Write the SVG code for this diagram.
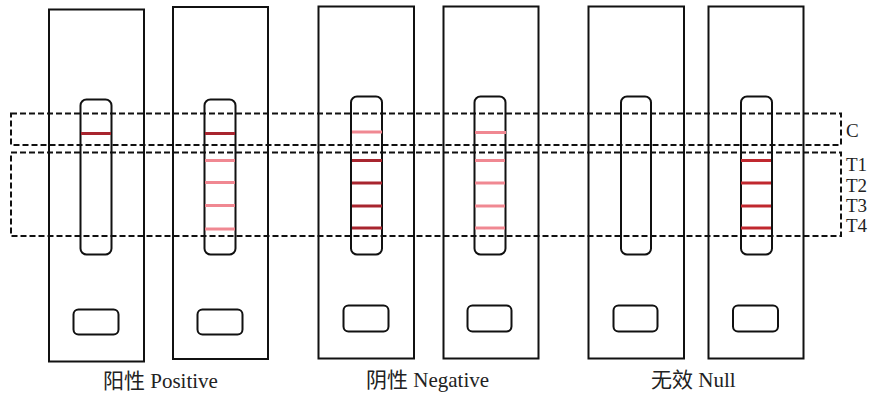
<svg xmlns="http://www.w3.org/2000/svg" width="870" height="394" viewBox="0 0 870 394">
  <style>
    .case { fill: #fff; stroke: #111; stroke-width: 2; }
    .win { fill: none; stroke: #111; stroke-width: 2; }
    .well { fill: none; stroke: #111; stroke-width: 2; }
    .zone { fill: none; stroke: #111; stroke-width: 2; stroke-dasharray: 6 3; }
    .dark { stroke: #a8252f; stroke-width: 3; }
    .pink { stroke: #f08892; stroke-width: 3; }
    .red { stroke: #c0282f; stroke-width: 3; }
    .lbl { font-family: "Liberation Serif", "Noto Sans CJK SC", serif; fill: #222; }
  </style>

  <!-- test cassettes -->
  <g id="cassette-1">
    <rect class="case" x="49" y="9.5" width="95" height="352"/>
    <rect class="win" x="80.5" y="99.5" width="31" height="155" rx="6"/>
    <rect class="well" x="73.5" y="309.5" width="45" height="25" rx="5"/>
    <line class="dark" x1="81" y1="133.5" x2="111" y2="133.5"/>
  </g>
  <g id="cassette-2">
    <rect class="case" x="173" y="7" width="95" height="352"/>
    <rect class="win" x="204.5" y="99.5" width="31" height="155" rx="6"/>
    <rect class="well" x="197.5" y="309.5" width="45" height="25" rx="5"/>
    <line class="dark" x1="205" y1="133.5" x2="235" y2="133.5"/>
    <line class="pink" x1="205" y1="160.5" x2="235" y2="160.5"/>
    <line class="pink" x1="205" y1="182.5" x2="235" y2="182.5"/>
    <line class="pink" x1="205" y1="205.5" x2="235" y2="205.5"/>
    <line class="pink" x1="205" y1="229" x2="235" y2="229"/>
  </g>
  <g id="cassette-3">
    <rect class="case" x="318.5" y="6.5" width="95.5" height="352"/>
    <rect class="win" x="351" y="96.5" width="31" height="158" rx="6"/>
    <rect class="well" x="343.5" y="305.5" width="45" height="26" rx="5"/>
    <line class="pink" x1="352" y1="132" x2="382" y2="132"/>
    <line class="dark" x1="352" y1="160.5" x2="382" y2="160.5"/>
    <line class="dark" x1="352" y1="183" x2="382" y2="183"/>
    <line class="dark" x1="352" y1="206" x2="382" y2="206"/>
    <line class="dark" x1="352" y1="228" x2="382" y2="228"/>
  </g>
  <g id="cassette-4">
    <rect class="case" x="443.5" y="6.5" width="95" height="352"/>
    <rect class="win" x="474.5" y="96.5" width="31" height="158" rx="6"/>
    <rect class="well" x="467.5" y="305.5" width="44" height="26" rx="5"/>
    <line class="pink" x1="475" y1="132.5" x2="506" y2="132.5"/>
    <line class="pink" x1="475" y1="160.5" x2="505" y2="160.5"/>
    <line class="pink" x1="475" y1="183" x2="505" y2="183"/>
    <line class="pink" x1="475" y1="206" x2="505" y2="206"/>
    <line class="pink" x1="475" y1="228" x2="505" y2="228"/>
  </g>
  <g id="cassette-5">
    <rect class="case" x="588.5" y="6.5" width="95.5" height="352"/>
    <rect class="win" x="621" y="96.5" width="30" height="158" rx="6"/>
    <rect class="well" x="613.5" y="305.5" width="44" height="26" rx="5"/>
  </g>
  <g id="cassette-6">
    <rect class="case" x="708.5" y="6.5" width="95" height="352"/>
    <rect class="win" x="741" y="96.5" width="31" height="158" rx="6"/>
    <rect class="well" x="733" y="305.5" width="45" height="26" rx="5"/>
    <line class="red" x1="741" y1="160.5" x2="771" y2="160.5"/>
    <line class="red" x1="741" y1="183" x2="771" y2="183"/>
    <line class="red" x1="741" y1="206" x2="771" y2="206"/>
    <line class="red" x1="741" y1="228" x2="771" y2="228"/>
  </g>

  <!-- control and test zones -->
  <g id="zones">
    <rect class="zone" x="11" y="113.5" width="830" height="31.5"/>
    <rect class="zone" x="11" y="152.5" width="830" height="83.5"/>
  </g>

  <g id="zone-labels" class="lbl" font-size="19">
    <text x="846" y="137">C</text>
    <text x="846" y="171">T1</text>
    <text x="846" y="191.5">T2</text>
    <text x="846" y="212">T3</text>
    <text x="846" y="232">T4</text>
  </g>

  <g id="group-labels" class="lbl" font-size="21">
    <text x="103" y="388">阳性 Positive</text>
    <text x="366" y="387">阴性 Negative</text>
    <text x="651" y="387">无效 Null</text>
  </g>
</svg>
